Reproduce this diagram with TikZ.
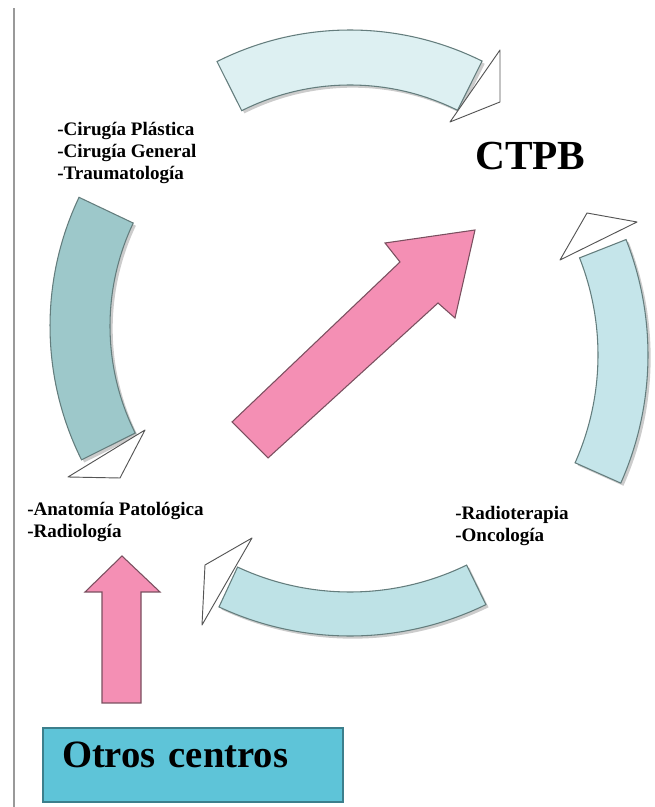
\documentclass[tikz,border=0pt]{standalone}
\usepackage{fontspec}
\setmainfont{Liberation Serif}
\usetikzlibrary{calc,shadows}

\definecolor{bandtop}{HTML}{DDF0F2}
\definecolor{bandright}{HTML}{C5E5EA}
\definecolor{bandbottom}{HTML}{BEE2E6}
\definecolor{bandleft}{HTML}{9DC8CA}
\definecolor{bandline}{HTML}{647D7D}
\definecolor{headline}{HTML}{555555}
\definecolor{pinkfill}{HTML}{F48FB4}
\definecolor{pinkline}{HTML}{7A4F5F}
\definecolor{boxfill}{HTML}{5EC4D8}
\definecolor{boxline}{HTML}{3C7F8C}

\begin{document}
\begin{tikzpicture}[x=0.75pt, y=0.75pt,
  band/.style={draw=bandline, line width=0.8pt,
    drop shadow={shadow xshift=2pt, shadow yshift=-2pt, fill=black!40, opacity=0.5}},
  headtip/.style={draw=headline, fill=white, line width=0.7pt, line join=round},
  pinkarrow/.style={draw=pinkline, fill=pinkfill, line width=0.8pt},
  tag/.style={font=\bfseries\fontsize{14.3}{16.5}\selectfont, align=left, anchor=north west, inner sep=0pt}]
\useasboundingbox (0,0) rectangle (654,807);
\draw[black!40, line width=1.4pt] (14,0) -- (14,799);

\coordinate (c) at (350,481);
\coordinate (cr) at (333,452);

\path[band, fill=bandtop] ($(c)+(116.7:296)$) arc[start angle=116.7, end angle=63.5, radius=296]
  -- ($(c)+(63.5:241)$) arc[start angle=63.5, end angle=116.7, radius=241] -- cycle;
\path[headtip] (500,757) -- (500,705) -- (450,685) -- cycle;

\path[band, fill=bandright] ($(cr)+(-24:315)$) arc[start angle=-24, end angle=21.5, radius=315]
  -- ($(cr)+(21.5:265)$) arc[start angle=21.5, end angle=-24, radius=265] -- cycle;
\path[headtip] (560,547) -- (587,594) -- (637,585) -- cycle;

\path[band, fill=bandbottom] ($(c)+(245:310)$) arc[start angle=245, end angle=296, radius=310]
  -- ($(c)+(296:266)$) arc[start angle=296, end angle=245, radius=266] -- cycle;
\path[headtip] (252,269) -- (205,242) -- (202,182) -- cycle;

\path[band, fill=bandleft] ($(c)+(154.6:300)$) arc[start angle=154.6, end angle=206.5, radius=300]
  -- ($(c)+(206.5:240)$) arc[start angle=206.5, end angle=154.6, radius=240] -- cycle;
\path[headtip] (145,377) -- (68,330) -- (120,329) -- cycle;

\path[pinkarrow] (232,385) -- (400,545) -- (385,564) -- (475,577) -- (455,489) -- (438,504) -- (268,349) -- cycle;
\path[pinkarrow] (102,104) -- (102,215) -- (85,215) -- (122,251) -- (160,215) -- (141,215) -- (141,104) -- cycle;

\node[tag] (cirugia) at (57,685) {-Cirugía Plástica\\-Cirugía General\\-Traumatología};
\node[tag] (anatomia) at (27,305.5) {-Anatomía Patológica\\-Radiología};
\node[tag] (radio) at (455,300.5) {-Radioterapia\\-Oncología};
\node[font=\bfseries\fontsize{31}{31}\selectfont, anchor=base west, inner sep=0pt] (ctpb) at (475,637) {CTPB};
\node[draw=boxline, fill=boxfill, line width=0.8pt, font=\bfseries\fontsize{29}{29}\selectfont,
  text width=196.5pt, inner xsep=14.25pt, inner ysep=0pt, text height=30pt, text depth=25.5pt, align=left]
  (otros) at (193,42) {Otros centros};
\end{tikzpicture}
\end{document}
